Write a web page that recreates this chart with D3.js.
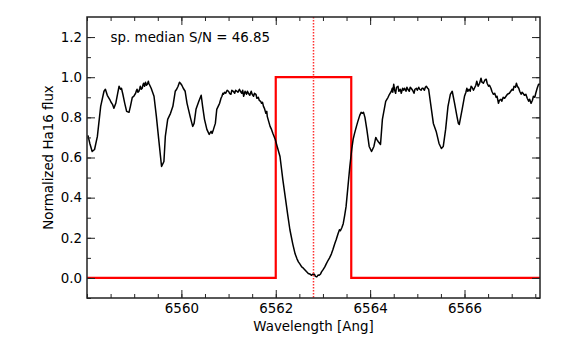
<!DOCTYPE html>
<html>
<head>
<meta charset="utf-8">
<script src="https://cdn.jsdelivr.net/npm/d3@7"></script>
<style>
  body { margin: 0; background: #fff; }
</style>
</head>
<body>
<div id="chart"></div>
<script>
// spectrum
var wave = [6558.02, 6558.06, 6558.11, 6558.16, 6558.22, 6558.29, 6558.36, 6558.39, 6558.41, 6558.43,
    6558.48, 6558.51, 6558.54, 6558.57, 6558.61, 6558.65, 6558.68, 6558.71, 6558.73, 6558.76,
    6558.80, 6558.84, 6558.89, 6558.92, 6558.96, 6558.99, 6559.03, 6559.05, 6559.06, 6559.08,
    6559.10, 6559.12, 6559.13, 6559.15, 6559.17, 6559.19, 6559.20, 6559.22, 6559.24, 6559.26,
    6559.28, 6559.30, 6559.31, 6559.33, 6559.36, 6559.42, 6559.47, 6559.52, 6559.58, 6559.63,
    6559.66, 6559.71, 6559.77, 6559.82, 6559.87, 6559.90, 6559.93, 6559.96, 6559.98, 6560.01,
    6560.04, 6560.08, 6560.12, 6560.15, 6560.19, 6560.24, 6560.27, 6560.31, 6560.37, 6560.42,
    6560.45, 6560.49, 6560.54, 6560.59, 6560.63, 6560.65, 6560.68, 6560.72, 6560.75, 6560.81,
    6560.84, 6560.86, 6560.88, 6560.89, 6560.92, 6560.94, 6560.97, 6561.00, 6561.02, 6561.05,
    6561.07, 6561.10, 6561.13, 6561.15, 6561.18, 6561.20, 6561.23, 6561.25, 6561.28, 6561.30,
    6561.32, 6561.35, 6561.38, 6561.40, 6561.42, 6561.45, 6561.48, 6561.50, 6561.53, 6561.55,
    6561.58, 6561.60, 6561.63, 6561.65, 6561.68, 6561.70, 6561.72, 6561.74, 6561.76, 6561.79,
    6561.81, 6561.82, 6561.85, 6561.88, 6561.91, 6561.94, 6561.99, 6562.03, 6562.09, 6562.15,
    6562.20, 6562.25, 6562.30, 6562.36, 6562.41, 6562.45, 6562.48, 6562.51, 6562.55, 6562.58,
    6562.62, 6562.65, 6562.69, 6562.72, 6562.76, 6562.79, 6562.82, 6562.84, 6562.87, 6562.90,
    6562.92, 6562.95, 6562.97, 6563.00, 6563.04, 6563.07, 6563.11, 6563.14, 6563.18, 6563.21,
    6563.25, 6563.28, 6563.32, 6563.35, 6563.37, 6563.40, 6563.43, 6563.46, 6563.49, 6563.53,
    6563.57, 6563.61, 6563.64, 6563.67, 6563.71, 6563.74, 6563.78, 6563.81, 6563.84, 6563.86,
    6563.89, 6563.93, 6563.98, 6564.03, 6564.08, 6564.12, 6564.14, 6564.17, 6564.22, 6564.26,
    6564.33, 6564.38, 6564.41, 6564.45, 6564.47, 6564.48, 6564.50, 6564.52, 6564.54, 6564.56,
    6564.59, 6564.61, 6564.64, 6564.66, 6564.69, 6564.71, 6564.73, 6564.76, 6564.78, 6564.80,
    6564.83, 6564.85, 6564.87, 6564.90, 6564.93, 6564.95, 6564.98, 6565.00, 6565.03, 6565.05,
    6565.08, 6565.10, 6565.12, 6565.15, 6565.17, 6565.19, 6565.22, 6565.24, 6565.29, 6565.34,
    6565.40, 6565.46, 6565.51, 6565.55, 6565.60, 6565.65, 6565.70, 6565.74, 6565.79, 6565.84,
    6565.87, 6565.89, 6565.95, 6566.00, 6566.03, 6566.05, 6566.07, 6566.10, 6566.12, 6566.14,
    6566.16, 6566.19, 6566.21, 6566.24, 6566.26, 6566.29, 6566.32, 6566.35, 6566.37, 6566.40,
    6566.43, 6566.46, 6566.48, 6566.51, 6566.53, 6566.56, 6566.58, 6566.61, 6566.64, 6566.67,
    6566.69, 6566.72, 6566.74, 6566.77, 6566.79, 6566.82, 6566.85, 6566.88, 6566.91, 6566.95,
    6566.98, 6567.01, 6567.03, 6567.05, 6567.08, 6567.10, 6567.12, 6567.15, 6567.17, 6567.20,
    6567.22, 6567.24, 6567.27, 6567.30, 6567.33, 6567.36, 6567.38, 6567.41, 6567.44, 6567.46,
    6567.49, 6567.51, 6567.54, 6567.57, 6567.60]
var flux = [0.71, 0.67, 0.63, 0.64, 0.705, 0.855, 0.93, 0.94, 0.925, 0.91,
    0.89, 0.875, 0.865, 0.845, 0.87, 0.92, 0.955, 0.94, 0.945, 0.915,
    0.87, 0.83, 0.825, 0.855, 0.90, 0.905, 0.92, 0.935, 0.94, 0.925,
    0.93, 0.945, 0.955, 0.94, 0.945, 0.965, 0.97, 0.955, 0.975, 0.96,
    0.965, 0.98, 0.97, 0.96, 0.945, 0.905, 0.805, 0.69, 0.555, 0.58,
    0.705, 0.79, 0.82, 0.855, 0.93, 0.94, 0.955, 0.975, 0.97, 0.96,
    0.945, 0.93, 0.87, 0.84, 0.80, 0.755, 0.77, 0.84, 0.88, 0.91,
    0.855, 0.79, 0.74, 0.715, 0.73, 0.72, 0.74, 0.77, 0.84, 0.87,
    0.895, 0.905, 0.92, 0.915, 0.925, 0.92, 0.935, 0.93, 0.92, 0.915,
    0.935, 0.93, 0.92, 0.935, 0.93, 0.925, 0.94, 0.93, 0.92, 0.935,
    0.905, 0.93, 0.915, 0.93, 0.92, 0.91, 0.93, 0.915, 0.905, 0.92,
    0.915, 0.895, 0.90, 0.885, 0.88, 0.87, 0.875, 0.855, 0.845, 0.82,
    0.83, 0.805, 0.78, 0.755, 0.74, 0.72, 0.69, 0.655, 0.605, 0.49,
    0.405, 0.32, 0.24, 0.17, 0.12, 0.095, 0.08, 0.07, 0.055, 0.05,
    0.04, 0.032, 0.022, 0.02, 0.013, 0.02, 0.018, 0.008, 0.005, 0.015,
    0.013, 0.02, 0.03, 0.04, 0.055, 0.07, 0.088, 0.10, 0.12, 0.14,
    0.17, 0.19, 0.22, 0.24, 0.235, 0.25, 0.27, 0.31, 0.355, 0.455,
    0.555, 0.64, 0.69, 0.72, 0.755, 0.78, 0.81, 0.825, 0.82, 0.825,
    0.80, 0.74, 0.655, 0.63, 0.655, 0.70, 0.69, 0.68, 0.665, 0.79,
    0.88, 0.90, 0.915, 0.93, 0.945, 0.925, 0.965, 0.935, 0.92, 0.95,
    0.955, 0.93, 0.94, 0.92, 0.945, 0.935, 0.945, 0.93, 0.95, 0.94,
    0.93, 0.95, 0.945, 0.935, 0.92, 0.94, 0.945, 0.935, 0.95, 0.94,
    0.935, 0.945, 0.945, 0.935, 0.95, 0.955, 0.945, 0.94, 0.855, 0.77,
    0.73, 0.67, 0.645, 0.655, 0.74, 0.855, 0.915, 0.93, 0.87, 0.805,
    0.77, 0.765, 0.84, 0.905, 0.925, 0.945, 0.93, 0.94, 0.93, 0.955,
    0.95, 0.935, 0.945, 0.96, 0.98, 0.955, 0.97, 0.995, 0.975, 0.97,
    0.985, 0.99, 0.97, 0.955, 0.96, 0.945, 0.93, 0.915, 0.92, 0.90,
    0.905, 0.87, 0.885, 0.89, 0.88, 0.90, 0.895, 0.905, 0.915, 0.92,
    0.93, 0.94, 0.935, 0.955, 0.95, 0.97, 0.955, 0.945, 0.93, 0.915,
    0.925, 0.92, 0.91, 0.915, 0.895, 0.88, 0.89, 0.87, 0.885, 0.905,
    0.90, 0.92, 0.945, 0.965, 0.965]

// line window (red box) and line centre
var windowStart = 6562.0
var windowEnd = 6563.6
var lineCentre = 6562.8

var xTicks = [6560, 6562, 6564, 6566]
var yTicks = [0.0, 0.2, 0.4, 0.6, 0.8, 1.0, 1.2]
var snrLabel = "sp. median S/N = 46.85"

var margin = { top: 17, right: 41, bottom: 41, left: 87 },
    width = 581,
    height = 339
var w = width - margin.left - margin.right,
    h = height - margin.top - margin.bottom
var font = "DejaVu Sans"

var svg = d3.select("#chart")
    .append("svg")
    .attr("width", width)
    .attr("height", height)
    .attr("font-family", font)

var g = svg.append("g")
    .attr("transform", "translate(" + margin.left + "," + margin.top + ")")

var x = d3.scaleLinear().domain([6558.0, 6567.6]).range([0, w])
var y = d3.scaleLinear().domain([-0.1, 1.3]).range([h, 0])

g.append("defs").append("clipPath").attr("id", "clip")
    .append("rect").attr("width", w).attr("height", h)

var plot = g.append("g").attr("clip-path", "url(#clip)")

// window box: zero outside, one inside
var boxPts = [[x.domain()[0], 0], [windowStart, 0], [windowStart, 1], [windowEnd, 1], [windowEnd, 0], [x.domain()[1], 0]]
plot.append("path")
    .attr("d", d3.line().x(d => x(d[0])).y(d => y(d[1]))(boxPts))
    .attr("fill", "none")
    .attr("stroke", "#ff0000")
    .attr("stroke-width", 2.2)

var spec = wave.map((d, i) => [d, flux[i]])
plot.append("path")
    .attr("d", d3.line().x(d => x(d[0])).y(d => y(d[1]))(spec))
    .attr("fill", "none")
    .attr("stroke", "#000")
    .attr("stroke-width", 1.5)
    .attr("stroke-linejoin", "round")

plot.append("line")
    .attr("x1", x(lineCentre)).attr("x2", x(lineCentre))
    .attr("y1", 0).attr("y2", h)
    .attr("stroke", "#ff3030")
    .attr("stroke-width", 1.5)
    .attr("stroke-dasharray", "1.5,1.5")

// ticks pointing inward on all four sides
var xMinor = d3.range(6558, 6567.6, 0.5)
var yMinor = d3.range(-0.1, 1.3, 0.1).map(v => Math.round(v * 10) / 10)

function tickGroup(axis, tr) {
    var a = g.append("g").attr("transform", tr).call(axis)
    a.attr("font-family", font).attr("font-size", "13.4px")
    a.select(".domain").remove()
    a.selectAll("line").attr("stroke", "#222").attr("stroke-width", 1)
    return a
}

tickGroup(d3.axisBottom(x).tickValues(xMinor).tickSize(-4).tickFormat(""), "translate(0," + h + ")")
tickGroup(d3.axisTop(x).tickValues(xMinor).tickSize(-4).tickFormat(""), "translate(0,0)")
tickGroup(d3.axisLeft(y).tickValues(yMinor).tickSize(-4).tickFormat(""), "translate(0,0)")
tickGroup(d3.axisRight(y).tickValues(yMinor).tickSize(-4).tickFormat(""), "translate(" + w + ",0)")

tickGroup(d3.axisBottom(x).tickValues(xTicks).tickSize(-8).tickPadding(5).tickFormat(d3.format("d")), "translate(0," + h + ")")
tickGroup(d3.axisTop(x).tickValues(xTicks).tickSize(-8).tickFormat(""), "translate(0,0)")
tickGroup(d3.axisLeft(y).tickValues(yTicks).tickSize(-8).tickPadding(5).tickFormat(d3.format(".1f")), "translate(0,0)")
tickGroup(d3.axisRight(y).tickValues(yTicks).tickSize(-8).tickFormat(""), "translate(" + w + ",0)")

svg.selectAll(".tick text").attr("fill", "#000")

// frame
g.append("rect")
    .attr("width", w).attr("height", h)
    .attr("fill", "none")
    .attr("stroke", "#222")
    .attr("stroke-width", 1.5)

g.append("text")
    .attr("x", x(6558.5))
    .attr("y", y(1.2) + 5)
    .attr("font-size", "13.4px")
    .text(snrLabel)

svg.append("text")
    .attr("x", margin.left + w / 2)
    .attr("y", 331)
    .attr("text-anchor", "middle")
    .attr("font-size", "13.4px")
    .text("Wavelength [Ang]")

svg.append("text")
    .attr("transform", "translate(53," + (margin.top + h / 2) + ") rotate(-90)")
    .attr("text-anchor", "middle")
    .attr("font-size", "13.4px")
    .text("Normalized Ha16 flux")
</script>
</body>
</html>
